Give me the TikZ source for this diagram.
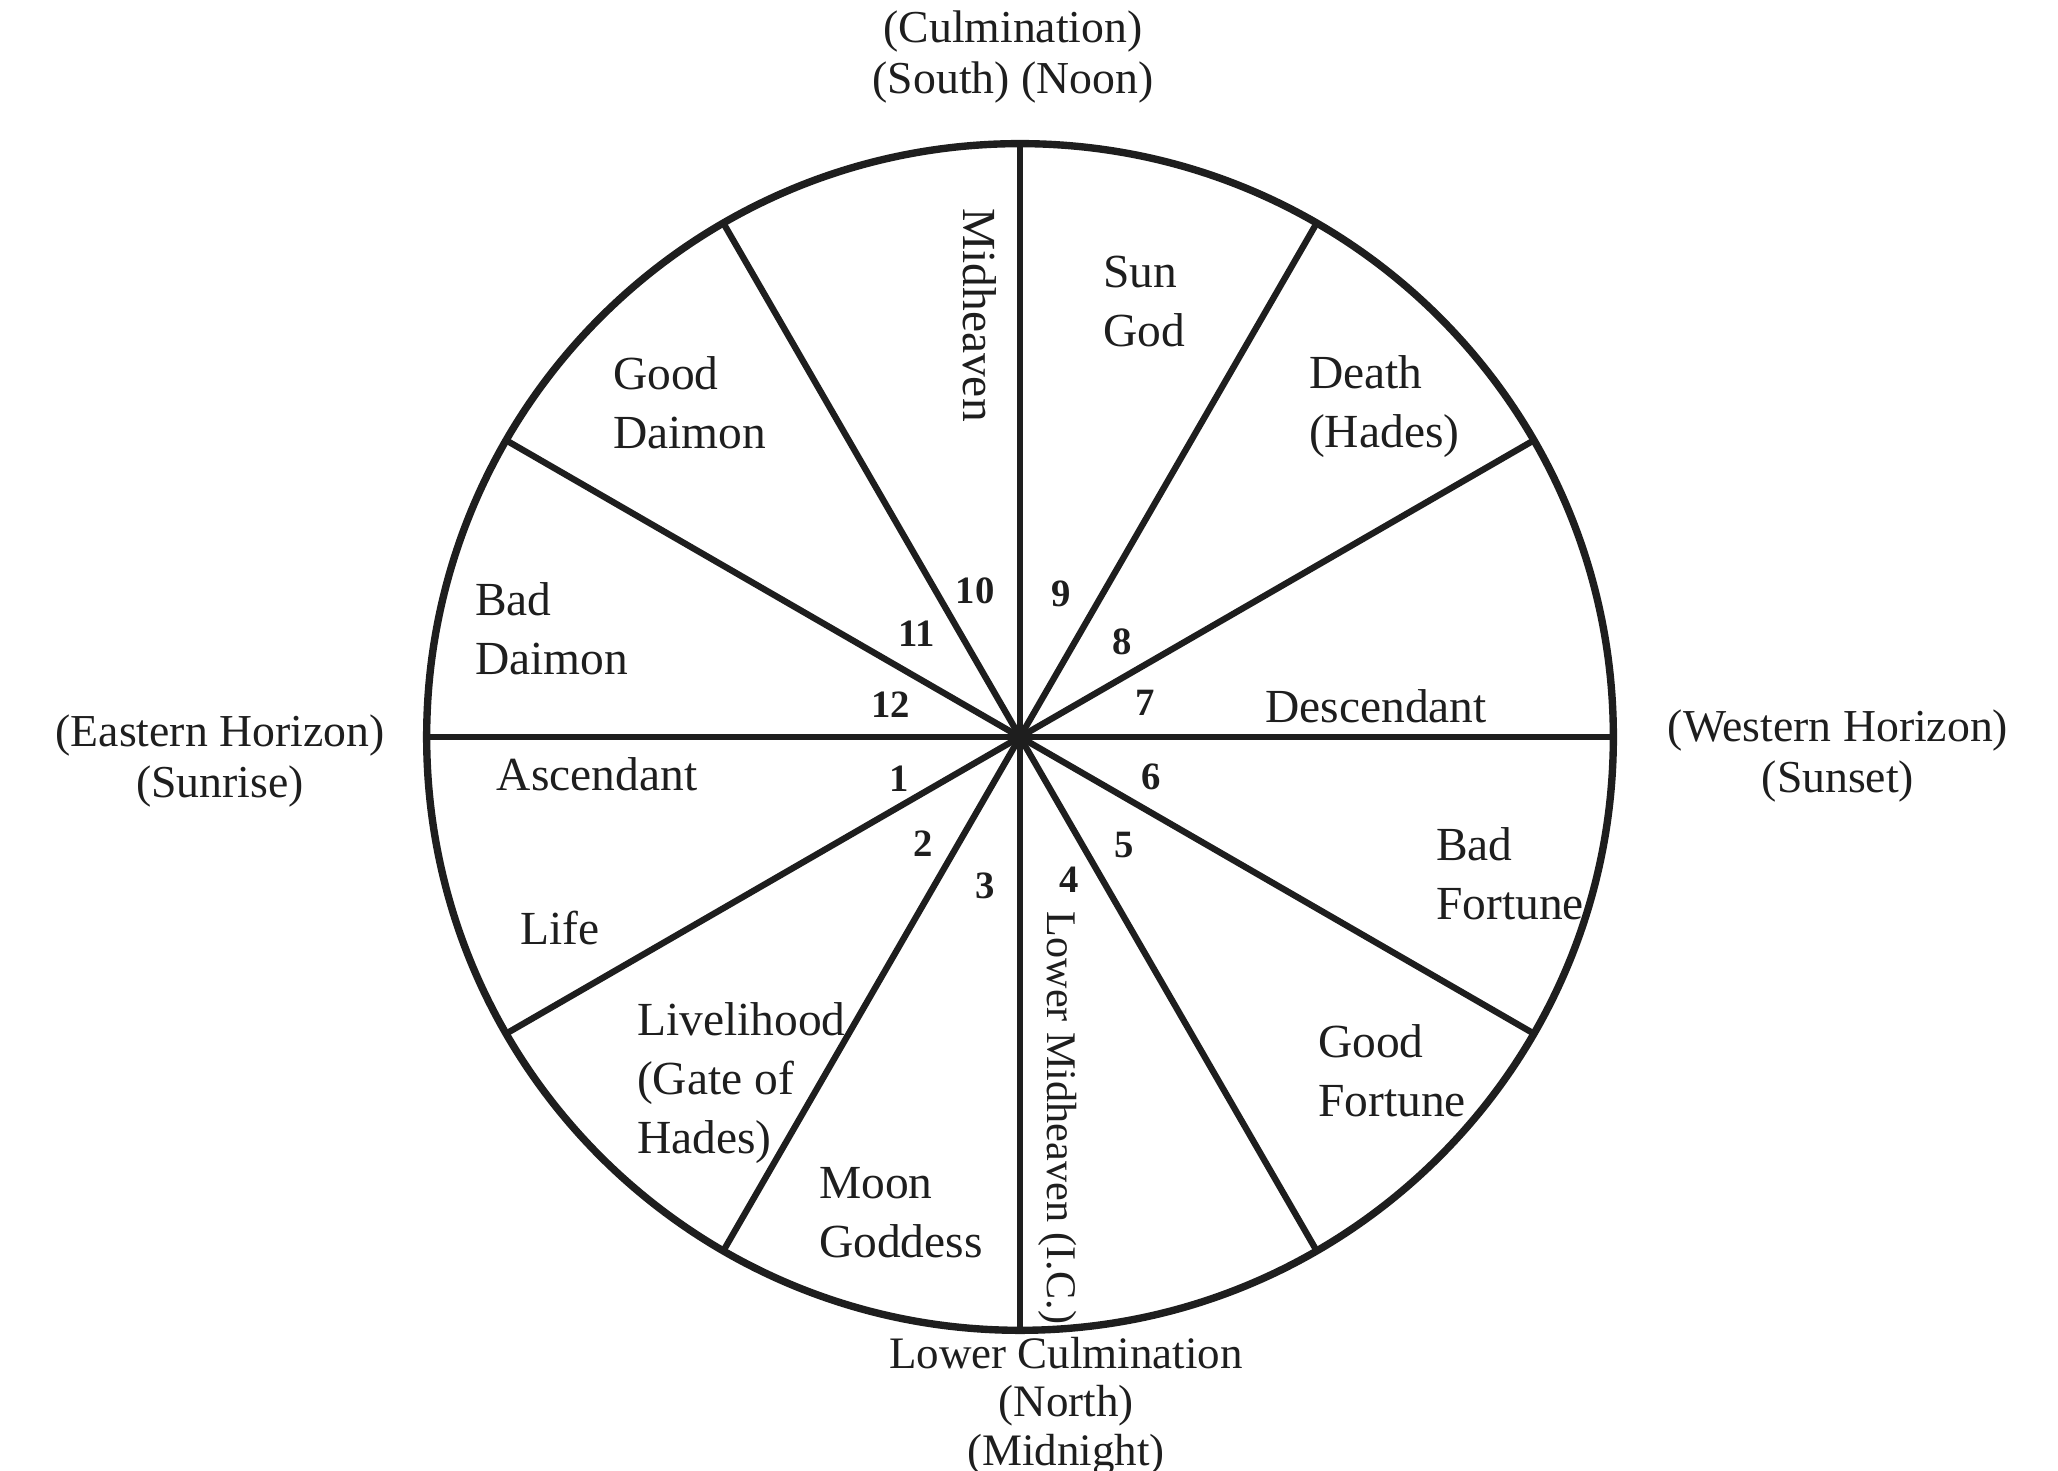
\documentclass[tikz,border=0pt]{standalone}
\usepackage{fontspec}
\setmainfont{Liberation Serif}
\usetikzlibrary{positioning}
\definecolor{cink}{HTML}{1E1E1E}
\tikzset{
  every picture/.style={line width=1.8pt, color=cink},
  wheel/.style={draw=cink, circle, inner sep=0pt, outer sep=0pt, minimum size=11.86cm, line width=2.1pt},
  hubdot/.style={circle, fill=cink, inner sep=0pt, minimum size=0.18cm},
  spoke/.style={draw=cink, line width=1.8pt},
  housetext/.style={font=\fontsize{13.5}{16.8}\selectfont, align=left, inner sep=0pt, text=cink},
  axistext/.style={housetext, rotate=-90},
  outertext/.style={font=\fontsize{13}{14.6}\selectfont, align=center, inner sep=0pt, text=cink},
  housenum/.style={font=\fontsize{11}{13}\selectfont\bfseries, inner sep=0pt, text=cink},
}

\begin{document}
\begin{tikzpicture}[x=0.01cm, y=0.01cm]
  \useasboundingbox (0,0) rectangle (2058,1471);
  % the wheel and its twelve houses
  \node[wheel] (wheel) at (1020,734) {};
  \node[hubdot] (hub) at (wheel.center) {};
  \foreach \a in {0,30,...,330}
    \draw[spoke] (hub.center) -- (wheel.\a);
  % house numbers
  \foreach \n/\ang/\r in {1/199/128, 2/228/144, 3/257/153, 4/289/151, 5/314/150, 6/343/137,
                          7/15/130, 8/43/140, 9/74/149, 10/107/153, 11/135/146, 12/166/133}
    \node[housenum] (num\n) at ([shift={(\ang:\r)}]hub.center) {\n};
  % house names
  \node[axistext] (midheaven) at (980,1156) {Midheaven};
  \node[housetext, anchor=west] (sungod) at (1100,1169) {Sun\\God};
  \node[housetext, anchor=west] (death) at (1306,1064) {Death\\(Hades)};
  \node[housetext, anchor=west] (gooddaimon) at (610,1068) {Good\\Daimon};
  \node[housetext, anchor=west] (baddaimon) at (472,842) {Bad\\Daimon};
  \node[housetext] (descendant) at (1376,765) {Descendant};
  \node[housetext] (ascendant) at (597,697) {Ascendant};
  \node[housetext] (life) at (560,543) {Life};
  \node[housetext, anchor=west] (badfortune) at (1433,597) {Bad\\Fortune};
  \node[housetext, anchor=west] (livelihood) at (634,388) {Livelihood\\(Gate of\\Hades)};
  \node[housetext, anchor=west] (goodfortune) at (1315,400) {Good\\Fortune};
  \node[housetext, anchor=west] (moongoddess) at (816,258) {Moon\\Goddess};
  \node[axistext, font=\fontsize{12}{14}\selectfont] (lowermid) at (1058,353) {Lower Midheaven (I.C.)};
  % the four cardinal points
  \node[outertext] (culm) at (1013,1414) {(Culmination)\\(South) (Noon)};
  \node[outertext] (east) at (220,710) {(Eastern Horizon)\\(Sunrise)};
  \node[outertext] (west) at (1838,715) {(Western Horizon)\\(Sunset)};
  \node[outertext, font=\fontsize{12.8}{13.8}\selectfont, anchor=north] (lowerculm) at (1066,137)
    {Lower Culmination\\(North)\\(Midnight)};
\end{tikzpicture}
\end{document}
